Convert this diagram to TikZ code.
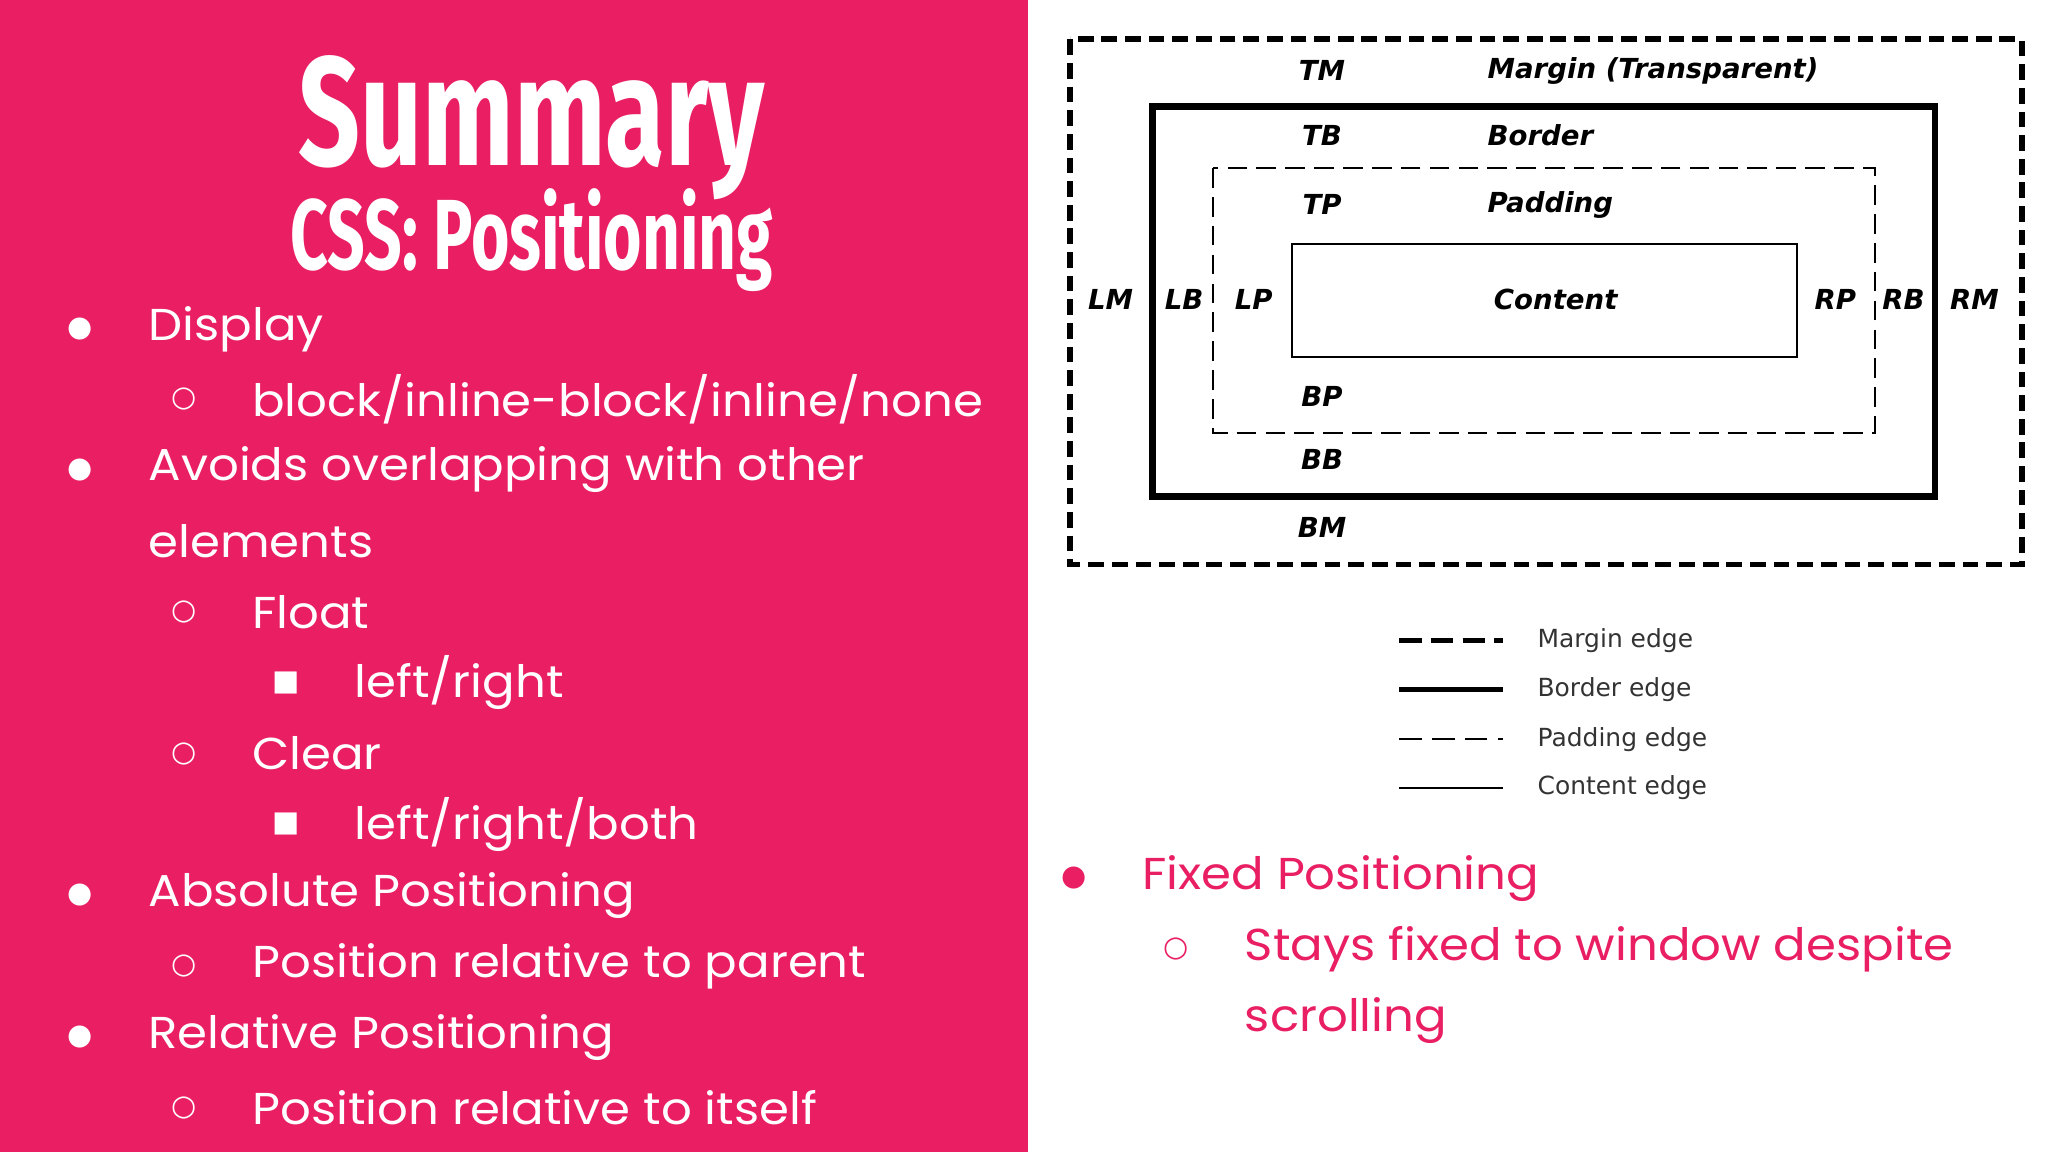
\documentclass[tikz,border=0pt]{standalone}
\usepackage{fontspec}
\setmainfont{Poppins}
\newfontfamily\titlef{Fira Sans}
\newfontfamily\symf{DejaVu Sans}
\newfontfamily\diagf{DejaVu Sans}
\definecolor{pinkbg}{HTML}{E91E63}
\begin{document}
\begin{tikzpicture}[x=1pt,y=-1pt,
  body/.style={anchor=west,inner sep=0pt,xscale=1.08,font=\fontsize{34}{34}\selectfont},
  wbody/.style={body,text=white},
  pbody/.style={body,text=pinkbg},
  bul/.style={inner sep=0pt,font=\symf\fontsize{22}{22}\selectfont},
  lab/.style={inner sep=0pt,font=\diagf\bfseries\itshape\fontsize{21}{21}\selectfont},
  labw/.style={lab,anchor=west},
  leg/.style={anchor=west,inner sep=0pt,text=black!80,font=\diagf\fontsize{19}{19}\selectfont}]
\useasboundingbox (0,0) rectangle (1560,877.5);
\fill[white] (0,0) rectangle (1560,877.5);
\fill[pinkbg] (0,0) rectangle (783,877.5);
% titles
\node[text=white,inner sep=0pt,xscale=0.7,font=\titlef\bfseries\fontsize{118}{118}\selectfont] (t1) at (405,97) {Summary};
\node[text=white,inner sep=0pt,xscale=0.66,font=\titlef\bfseries\fontsize{76}{76}\selectfont] (t2) at (405,183) {CSS: Positioning};
% left bullets
\foreach \y in {251,358,682,790} \node[bul,text=white] at (61,\y) {●};
\foreach \y in {304,466,574,736,844} \node[bul,text=white] at (140,\y) {○};
\foreach \y in {520,628} \node[bul,text=white] at (218,\y) {■};
\node[wbody] (a1) at (113,251) {Display};
\node[wbody] (a2) at (192,304) {block/inline-block/inline/none};
\node[wbody] (a3) at (113,358) {Avoids overlapping with other};
\node[wbody] (a4) at (113,412) {elements};
\node[wbody] (a5) at (192,466) {Float};
\node[wbody] (a6) at (270,520) {left/right};
\node[wbody] (a7) at (192,574) {Clear};
\node[wbody] (a8) at (270,628) {left/right/both};
\node[wbody] (a9) at (113,682) {Absolute Positioning};
\node[wbody] (a10) at (192,736) {Position relative to parent};
\node[wbody] (a11) at (113,790) {Relative Positioning};
\node[wbody] (a12) at (192,844) {Position relative to itself};
% right bullets
\node[bul,text=pinkbg] at (818,669) {●};
\node[bul,text=pinkbg] at (896,723) {○};
\node[pbody] (b1) at (870,669) {Fixed Positioning};
\node[pbody] (b2) at (948,723) {Stays fixed to window despite};
\node[pbody] (b3) at (948,777) {scrolling};
% box model
\draw[line width=4.5pt,dash pattern=on 12pt off 6pt] (815,30) rectangle (1540,430);
\draw[line width=5pt] (878,81) rectangle (1474,378);
\draw[line width=1.5pt,dash pattern=on 15pt off 7pt] (924,128) rectangle (1428,330);
\draw[line width=1.5pt] (984,186) rectangle (1369,272);
\node[lab] (tm) at (1007,54) {TM};
\node[labw] (mt) at (1133,54) {Margin (Transparent)};
\node[lab] (tb) at (1007,103) {TB};
\node[labw] (bo) at (1133,103) {Border};
\node[lab] (tp) at (1007,156) {TP};
\node[labw] (pa) at (1133,156) {Padding};
\node[lab] (co) at (1185,228) {Content};
\node[lab] (lm) at (846,228) {LM};
\node[lab] (lb) at (902,228) {LB};
\node[lab] (lp) at (955,228) {LP};
\node[lab] (rp) at (1398,228) {RP};
\node[lab] (rb) at (1450,228) {RB};
\node[lab] (rm) at (1504,228) {RM};
\node[lab] (bp) at (1007,302) {BP};
\node[lab] (bb) at (1007,350) {BB};
\node[lab] (bm) at (1007,402) {BM};
% legend
\coordinate (l1a) at (1066,488); \coordinate (l1b) at (1145,488);
\coordinate (l2a) at (1066,525); \coordinate (l2b) at (1145,525);
\coordinate (l3a) at (1066,563); \coordinate (l3b) at (1145,563);
\coordinate (l4a) at (1066,600); \coordinate (l4b) at (1145,600);
\draw[line width=4pt,dash pattern=on 17pt off 7pt] (l1a) -- (l1b);
\draw[line width=4pt] (l2a) -- (l2b);
\draw[line width=1.3pt,dash pattern=on 17pt off 8pt] (l3a) -- (l3b);
\draw[line width=1.3pt] (l4a) -- (l4b);
\node[leg] (g1) at (1171,488) {Margin edge};
\node[leg] (g2) at (1171,525) {Border edge};
\node[leg] (g3) at (1171,563) {Padding edge};
\node[leg] (g4) at (1171,600) {Content edge};
\end{tikzpicture}
\end{document}
